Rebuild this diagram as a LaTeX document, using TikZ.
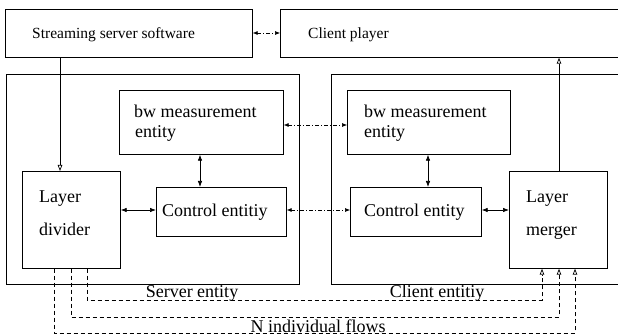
\documentclass[tikz,border=0pt]{standalone}
\usepackage{fontspec}
\setmainfont{Liberation Serif}
\usetikzlibrary{arrows.meta}
\begin{document}
\begin{tikzpicture}[x=1pt,y=-1pt,
  box/.style={draw,line width=0.7pt,inner sep=0pt,anchor=north west},
  toplabel/.style={anchor=base west,inner sep=0pt,font=\fontsize{15.5}{18}\selectfont},
  label/.style={anchor=base west,inner sep=0pt,font=\fontsize{18}{20}\selectfont},
  solidarrow/.style={line width=0.7pt,{Latex[length=6pt,width=4.5pt]}-{Latex[length=6pt,width=4.5pt]}},
  ctrlarrow/.style={line width=0.6pt,dash pattern=on 4pt off 2pt on 1pt off 2pt,{Latex[length=5pt,width=4pt]}-{Latex[length=5pt,width=4pt]}},
  feed/.style={line width=0.7pt,-{Triangle[open,length=6pt,width=4.5pt]}},
  flow/.style={line width=0.7pt,dash pattern=on 4pt off 3pt,-{Triangle[open,length=6pt,width=4.5pt]}}]
\useasboundingbox (0,0) rectangle (618,336);

% top row
\node[box,minimum width=247pt,minimum height=48pt] (sss) at (5,9) {};
\node[box,minimum width=345pt,minimum height=48pt] (cp) at (280,9) {};
\node[toplabel] (ssst) at (32,39) {Streaming server software};
\node[toplabel] (cpt) at (308,39) {Client player};

% server and client entities
\node[box,minimum width=293pt,minimum height=210pt] (se) at (6,74) {};
\node[box,minimum width=294pt,minimum height=210pt] (ce) at (331,74) {};

% inner blocks, server side
\node[box,minimum width=164pt,minimum height=64pt] (sbw) at (119,90) {};
\node[box,minimum width=98pt,minimum height=97pt] (ld) at (22,171) {};
\node[box,minimum width=130pt,minimum height=49pt] (sce) at (156,187) {};
% inner blocks, client side
\node[box,minimum width=163pt,minimum height=64pt] (cbw) at (347,90) {};
\node[box,minimum width=131pt,minimum height=49pt] (cce) at (350,187) {};
\node[box,minimum width=98pt,minimum height=97pt] (lm) at (509,171) {};

% block texts
\node[label] (sbw1) at (134,118) {bw measurement};
\node[label] (sbw2) at (135,138) {entity};
\node[label] (cbw1) at (364,118) {bw measurement};
\node[label] (cbw2) at (364,138) {entity};
\node[label] (ld1) at (39,203) {Layer};
\node[label] (ld2) at (39,236) {divider};
\node[label] (lm1) at (526,203) {Layer};
\node[label] (lm2) at (526,236) {merger};
\node[label] (scet) at (162,217) {Control entitiy};
\node[label] (ccet) at (364,217) {Control entity};

% control links between peers
\draw[ctrlarrow] (sss.east |- 0,33) -- (cp.west |- 0,33);
\draw[ctrlarrow] (sbw.east |- 0,125) -- (cbw.west |- 0,125);
\draw[ctrlarrow] (sce.east |- 0,210) -- (cce.west |- 0,210);

% local links
\draw[solidarrow] (ld.east |- 0,210) -- (sce.west |- 0,210);
\draw[solidarrow] (cce.east |- 0,210) -- (lm.west |- 0,210);
\draw[solidarrow] (sbw.south -| 200,0) -- (sce.north -| 200,0);
\draw[solidarrow] (cbw.south -| 428,0) -- (cce.north -| 428,0);

% media path
\draw[feed] (sss.south -| 60,0) -- (ld.north -| 60,0);
\draw[feed] (lm.north -| 559,0) -- (cp.south -| 559,0);

% individual flows
\draw[flow] (ld.south -| 87,0) |- (542,300) -- (lm.south -| 542,0);
\draw[flow] (ld.south -| 71,0) |- (559,317) -- (lm.south -| 559,0);
\draw[flow] (ld.south -| 54,0) |- (575,333) -- (lm.south -| 575,0);

% entity captions
\node[label,anchor=base] (set) at (192,298) {Server entity};
\node[label,anchor=base] (cet) at (437,298) {Client entitiy};
\node[label,anchor=base,fill=white,inner xsep=1pt] (nif) at (318,333) {N individual flows};
\end{tikzpicture}
\end{document}
